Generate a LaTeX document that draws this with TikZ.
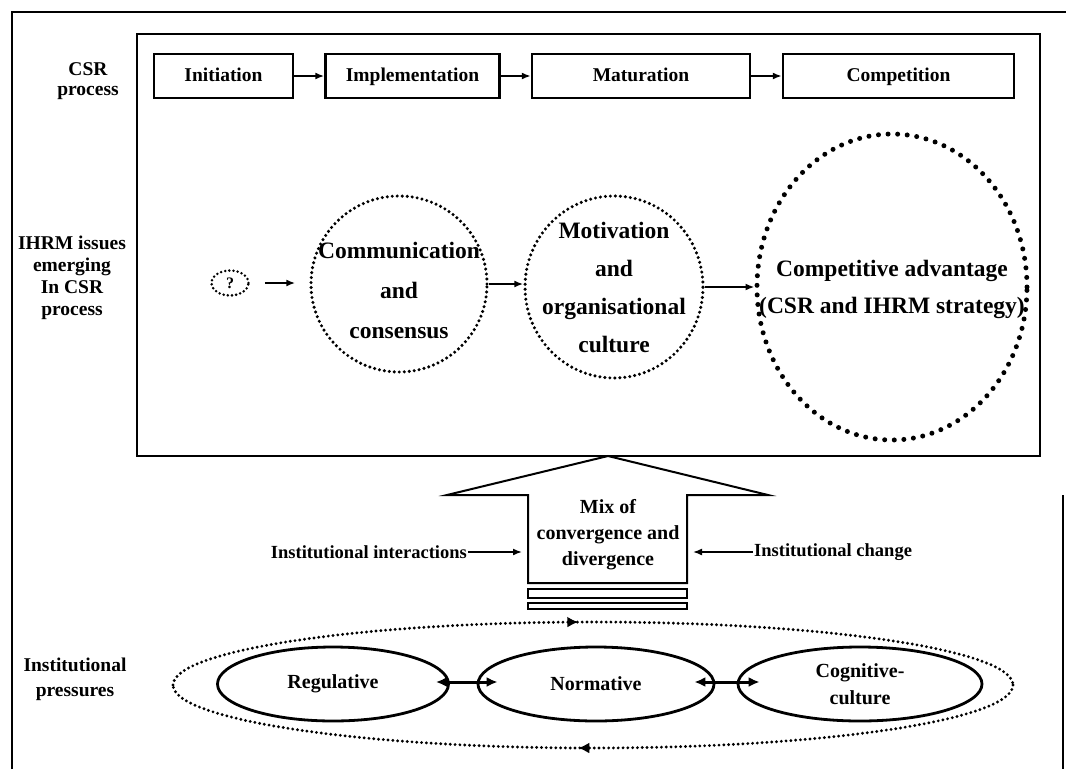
\documentclass[tikz,border=0pt]{standalone}
\usepackage{fontspec}
\setmainfont{Liberation Serif}
\usetikzlibrary{arrows.meta,shapes.geometric,decorations.markings,calc}

\begin{document}
\begin{tikzpicture}[x=1pt,y=-1pt,
  frame/.style={draw, line width=1.8pt},
  stage/.style={draw, line width=2.4pt, minimum height=44pt, inner sep=0pt,
    text height=14pt, text depth=4pt,
    font=\fontsize{19.5}{22}\selectfont\bfseries},
  side/.style={align=center, inner sep=0pt},
  dotring/.style={draw, ellipse, line width=3.4pt, dash pattern=on 0pt off 5pt,
    line cap=round, inner sep=0pt},
  bigdots/.style={line width=5pt, dash pattern=on 0pt off 9.6pt},
  ringtext/.style={align=center, inner sep=0pt},
  flow/.style={-{Latex[length=9pt,width=7pt]}, line width=2.2pt},
  feed/.style={-{Latex[length=9pt,width=7pt]}, line width=1.6pt},
  pressure/.style={draw, ellipse, line width=2.8pt, inner sep=0pt, minimum height=74pt,
    align=center, font=\fontsize{20}{27}\selectfont\bfseries},
  twoway/.style={{Latex[length=11pt,width=10pt]}-{Latex[length=11pt,width=10pt]}, line width=3pt},
  loopline/.style={line width=3.2pt, dash pattern=on 0pt off 4.8pt, line cap=round},
]
\useasboundingbox (0,0) rectangle (1066,769);

% outer frame
\draw[frame] (12,769) -- (12,12) -- (1066,12);
\draw[frame] (1063,495) -- (1063,769);

% inner panel
\draw[frame] (137,34) rectangle (1040,456);

% row labels
\node[side, font=\fontsize{19.5}{20}\selectfont\bfseries] (lblcsr) at (88,81) {CSR\\process};
\node[side, font=\fontsize{19.5}{22}\selectfont\bfseries] (lblihrm) at (72,278) {IHRM issues\\emerging\\In CSR\\process};
\node[side, font=\fontsize{19.5}{25}\selectfont\bfseries] (lblinst) at (75,679) {Institutional\\pressures};

% CSR process stages
\node[stage, minimum width=139pt] (init) at (223.5,76) {Initiation};
\node[stage, minimum width=174pt] (impl) at (412.5,76) {Implementation};
\node[stage, minimum width=218pt] (mat)  at (641,76)   {Maturation};
\node[stage, minimum width=231pt] (comp) at (898.5,76) {Competition};
\draw[flow] (init) -- (impl);
\draw[flow] (impl) -- (mat);
\draw[flow] (mat) -- (comp);

% IHRM issues
\node[dotring, line width=2.8pt, dash pattern=on 0pt off 4.2pt, minimum width=37pt, minimum height=25pt,
  font=\fontsize{16}{16}\selectfont\bfseries] (q) at (230,283) {?};
\node[dotring, minimum width=176pt, minimum height=176pt] (commring) at (399,284) {};
\node[ringtext, font=\fontsize{23.5}{40}\selectfont\bfseries] (commtxt) at (399,290) {Communication\\and\\consensus};
\node[dotring, minimum width=178pt, minimum height=182pt] (motring) at (614,287) {};
\node[ringtext, font=\fontsize{23.5}{38}\selectfont\bfseries] (mottxt) at (614,287) {Motivation\\and\\organisational\\culture};
\node[dotring, bigdots, minimum width=270pt, minimum height=306pt] (advring) at (892,287) {};
\node[ringtext, font=\fontsize{23.5}{37}\selectfont\bfseries] (advtxt) at (892,289) {Competitive advantage\\(CSR and IHRM strategy)};

\draw[flow, shorten <=15pt, shorten >=14pt] (q.east) -- (q.east -| commring.west);
\draw[flow] (commring.east) -- (commring.east -| motring.west);
\draw[flow] (motring.east) -- (motring.east -| advring.west);

% upward arrow from the institutional level
\coordinate (tip) at (608,456);
\coordinate (shaftL) at (528,552);
\coordinate (shaftR) at (687,552);
\draw[line width=2pt, line join=miter] (tip) -- (768,495) -- (687,495) -- (687,583) -- (528,583)
  -- (528,495) -- (447,495) -- cycle;
\draw[line width=1.5pt] (528,589) rectangle (687,598);
\draw[line width=1.5pt] (528,603) rectangle (687,609);
\node[ringtext, font=\fontsize{20}{26}\selectfont\bfseries] (mix) at (608,535) {Mix of\\convergence and\\divergence};

\node[anchor=east, inner sep=1pt, font=\fontsize{18.5}{20}\selectfont\bfseries] (intl) at (468,552) {Institutional interactions};
\node[anchor=west, inner sep=1pt, font=\fontsize{18.5}{20}\selectfont\bfseries] (chg) at (753,552) {Institutional change};
\draw[feed, shorten >=6pt] (intl.east) -- (shaftL);
\draw[feed, shorten >=6pt] (chg.west) -- (shaftR);

% institutional pressures
\node[pressure, minimum width=231pt] (reg)  at (333,684) {Regulative};
\node[pressure, minimum width=236pt] (norm) at (596,684) {Normative};
\node[pressure, minimum width=244pt] (cog)  at (860,684) {Cognitive-\\culture};
\draw[twoway] ($(reg.east)+(-14,-2)$) -- ($(norm.west)+(21,-2)$);
\draw[twoway] ($(norm.east)+(-21,-2)$) -- ($(cog.west)+(23,-2)$);

% circulating loop round the pressures
\draw[loopline, postaction={decorate}, decoration={markings,
    mark=at position 0.483 with {\pgfsetdash{}{0pt}\arrow{Latex[length=11pt,width=11pt]}}}]
  (173,685) arc[start angle=180, end angle=360, x radius=420, y radius=63];
\draw[loopline, postaction={decorate}, decoration={markings,
    mark=at position 0.517 with {\pgfsetdash{}{0pt}\arrow{Latex[length=11pt,width=11pt]}}}]
  (1013,685) arc[start angle=0, end angle=180, x radius=420, y radius=63];
\end{tikzpicture}
\end{document}
